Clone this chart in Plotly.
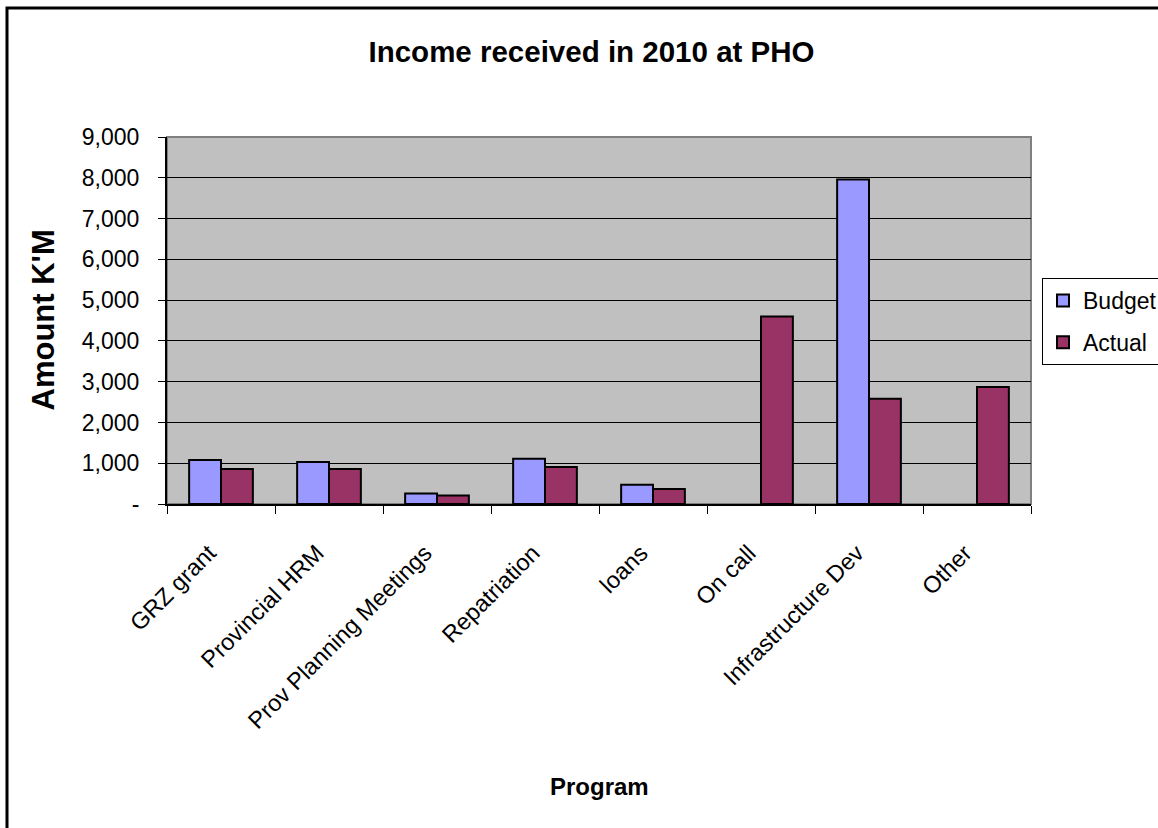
import plotly.graph_objects as go

# Income by program, 2010 (K'M)
programs = ["GRZ grant", "Provincial HRM", "Prov Planning Meetings", "Repatriation",
            "loans", "On call", "Infrastructure Dev", "Other"]
budget = [1080, 1030, 260, 1110, 470, None, 7960, None]
actual = [860, 860, 210, 910, 370, 4600, 2580, 2870]

y_tick_values = [0, 1000, 2000, 3000, 4000, 5000, 6000, 7000, 8000, 9000]
y_tick_labels = ["-", "1,000", "2,000", "3,000", "4,000", "5,000",
                 "6,000", "7,000", "8,000", "9,000"]

FONT = "Arial, Liberation Sans, sans-serif"
W, H = 1158, 828
L, R, T, B = 167, 127, 137, 324
pw, ph = W - L - R, H - T - B


def px_x(x):
    return (x - L) / pw


def px_y(y):
    return (H - B - y) / ph


fig = go.Figure()
fig.add_trace(go.Bar(name="Budget", x=programs, y=budget, legendgroup="budget",
                     marker=dict(color="#9999FF", line=dict(color="black", width=2))))
fig.add_trace(go.Bar(name="Actual", x=programs, y=actual, legendgroup="actual",
                     marker=dict(color="#993366", line=dict(color="black", width=2))))

fig.update_layout(
    width=W, height=H,
    margin=dict(l=L, r=R, t=T, b=B, autoexpand=False),
    paper_bgcolor="white", plot_bgcolor="#C0C0C0",
    barmode="group", bargap=0.41, bargroupgap=0,
    font=dict(family=FONT, color="black", size=23),
    showlegend=True,
    legend=dict(x=px_x(1042), y=px_y(278), xanchor="left", yanchor="top",
                bordercolor="black", borderwidth=1, bgcolor="white",
                font=dict(size=23), itemwidth=30, tracegroupgap=9,
                traceorder="grouped"),
    title=dict(text="<b>Income received in 2010 at PHO</b>", x=591.5 / W, xref="container",
               y=1 - 52 / H, yref="container", xanchor="center", yanchor="middle",
               font=dict(size=29.5, family=FONT)),
)

fig.update_xaxes(
    showline=True, linecolor="black", linewidth=2,
    ticks="outside", tickson="boundaries", ticklen=8, tickcolor="black", tickwidth=1,
    tickangle=-45, tickfont=dict(size=23.5), showgrid=False,
    ticklabelstandoff=24, ticklabelshift=-12,
)
fig.update_yaxes(
    range=[0, 9000], tickvals=y_tick_values, ticktext=y_tick_labels,
    showline=True, linecolor="black", linewidth=2,
    ticks="outside", ticklen=7, tickcolor="black", tickwidth=1,
    ticklabelstandoff=14, tickfont=dict(size=23),
    showgrid=True, gridcolor="black", gridwidth=1, zeroline=False,
)

# Axis titles
fig.add_annotation(text="<b>Amount K'M</b>", xref="paper", yref="paper",
                   x=px_x(43), y=0.5, textangle=-90, showarrow=False,
                   xanchor="center", yanchor="middle", font=dict(size=31))
fig.add_annotation(text="<b>Program</b>", xref="paper", yref="paper",
                   x=0.5, y=px_y(786), showarrow=False,
                   xanchor="center", yanchor="middle", font=dict(size=24))

# Plot-area frame and chart border
fig.add_shape(type="rect", xref="paper", yref="paper", x0=0, x1=1, y0=0, y1=1,
              line=dict(color="#808080", width=2), layer="below")
fig.add_shape(type="rect", xref="paper", yref="paper",
              x0=px_x(7), x1=px_x(1175), y0=px_y(845), y1=px_y(8),
              line=dict(color="black", width=3))

fig.write_html("out.html")
